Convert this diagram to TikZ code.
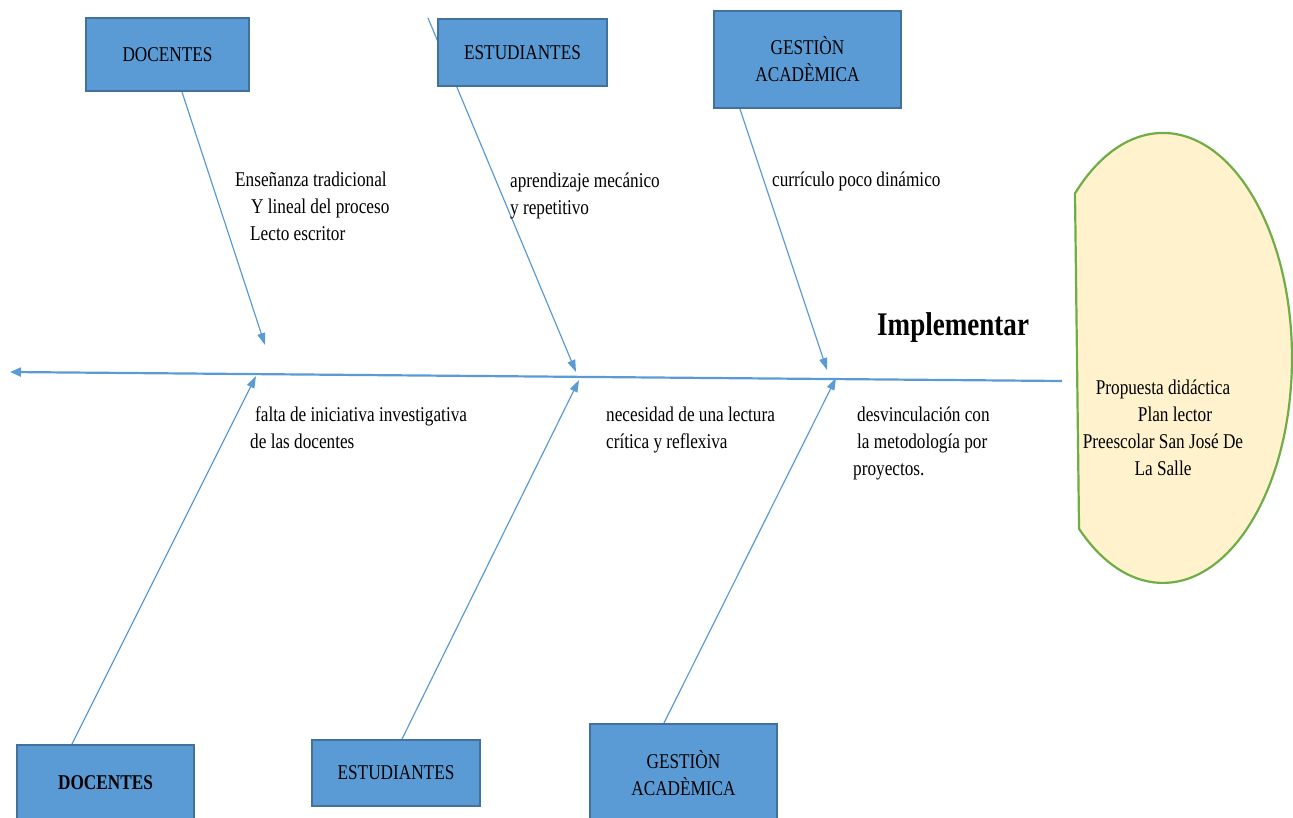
\documentclass[tikz,border=0pt]{standalone}
\usepackage{fontspec}
\setmainfont{Liberation Serif}[FakeStretch=0.82]
\usetikzlibrary{arrows.meta,backgrounds}
\definecolor{fbblue}{HTML}{5B9BD5}
\definecolor{fbborder}{HTML}{41719C}
\definecolor{goalfill}{HTML}{FFF2CC}
\definecolor{goalline}{HTML}{70AD47}
\begin{document}
\begin{tikzpicture}[x=1pt,y=1pt,
  catbox/.style={draw=fbborder, fill=fbblue, line width=2pt, inner sep=0pt, align=center, font=\fontsize{21}{27}\selectfont},
  causetxt/.style={inner sep=0pt, anchor=north west, align=left, font=\fontsize{21}{27}\selectfont},
  branch/.style={draw=fbblue, line width=1.2pt, -{Triangle[length=12pt,width=8pt]}},
  spine/.style={draw=fbblue, line width=2.2pt, -{Triangle[length=11pt,width=9pt]}}]
\useasboundingbox (0,-818) rectangle (1293,0);
% goal shape
\filldraw[fill=goalfill, draw=goalline, line width=2.2pt, line join=round]
  (1075,-193.4) arc[start angle=133, end angle=-130.6, x radius=129pt, y radius=225pt] -- cycle;
\node[inner sep=0pt, anchor=north, align=center, font=\fontsize{21}{27}\selectfont] (goal) at (1163,-380)
  {Propuesta didáctica\\\hspace*{24pt}Plan lector\\Preescolar San José De\\La Salle};
% category boxes
\node[catbox, minimum width=163pt, minimum height=73pt] (dtop) at (167.5,-54.5) {DOCENTES};
\node[catbox, minimum width=169pt, minimum height=67pt] (etop) at (522.5,-52.5) {ESTUDIANTES};
\node[catbox, minimum width=187pt, minimum height=97pt] (gtop) at (807.5,-59.5) {GESTIÒN\\ACADÈMICA};
\node[catbox, minimum width=177pt, minimum height=76pt, font=\fontsize{21}{27}\selectfont\bfseries] (dbot) at (105.5,-783) {DOCENTES};
\node[catbox, minimum width=168pt, minimum height=66pt] (ebot) at (396,-773) {ESTUDIANTES};
\node[catbox, minimum width=187pt, minimum height=99pt] (gbot) at (683.5,-773.5) {GESTIÒN\\ACADÈMICA};
% spine and branch ends
\coordinate (head) at (10,-372);
\coordinate (tail) at (1062,-381);
\coordinate (esrc) at (428,-18);
\coordinate (t1) at (265,-345);
\coordinate (t2) at (576,-372);
\coordinate (t3) at (827,-370);
\coordinate (b1) at (256,-376);
\coordinate (b2) at (579,-380);
\coordinate (b3) at (836,-378);
\begin{scope}[on background layer]
  \draw[spine] (tail) -- (head);
  \draw[branch] ([xshift=14.5pt]dtop.south) -- (t1);
  \draw[branch] (esrc) -- (t2);
  \draw[branch] ([xshift=-67.5pt]gtop.south) -- (t3);
  \draw[branch] ([xshift=-33.5pt]dbot.north) -- (b1);
  \draw[branch] ([xshift=6pt]ebot.north) -- (b2);
  \draw[branch] ([xshift=-19.5pt]gbot.north) -- (b3);
\end{scope}
% cause texts
\node[causetxt] (c1) at (235,-172) {Enseñanza tradicional\\\hspace*{16pt}Y lineal del proceso\\\hspace*{15pt}Lecto escritor};
\node[causetxt] (c2) at (510,-173) {aprendizaje mecánico\\y repetitivo};
\node[causetxt] (c3) at (772,-172) {currículo poco dinámico};
\node[causetxt] (c4) at (250,-407) {\hspace*{5pt}falta de iniciativa investigativa\\de las docentes};
\node[causetxt] (c5) at (606,-407) {necesidad de una lectura\\crítica y reflexiva};
\node[causetxt] (c6) at (853,-407) {\hspace*{4pt}desvinculación con\\\hspace*{4pt}la metodología por\\proyectos.};
\node[inner sep=0pt, anchor=base west, font=\fontsize{33}{40}\selectfont\bfseries] (impl) at (877,-335) {Implementar};
\end{tikzpicture}
\end{document}
